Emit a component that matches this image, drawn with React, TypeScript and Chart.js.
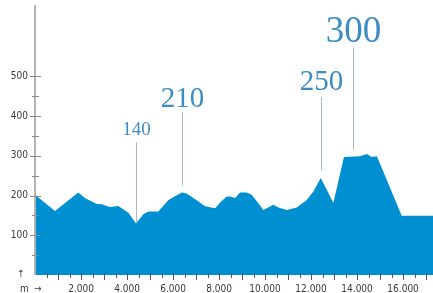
import React, { useEffect, useRef } from 'react';
import { Chart, registerables } from 'chart.js';

Chart.register(...registerables);

// Elevation profile (distance in m, elevation in m)
const distances = [0, 870, 1880, 2170, 2680, 2900, 3260, 3620, 4060, 4390, 4710, 4930, 5360, 5800, 6380, 6590, 7030, 7390, 7830, 8040, 8330, 8480, 8700, 8910, 9200, 9420, 9930, 10360, 10580, 10940, 11380, 11810, 12100, 12420, 12970, 13430, 14130, 14420, 14640, 14860, 15940, 17300];
const elevations = [202, 161, 208, 194, 179, 178, 171, 174, 157, 130, 153, 160, 160, 189, 208, 205, 188, 173, 168, 182, 198, 198, 194, 208, 208, 202, 164, 177, 170, 164, 170, 189, 210, 244, 182, 297, 299, 305, 297, 299, 149, 149];

const yTickLabels = [100, 200, 300, 400, 500];
const yMinorTicks = [50, 150, 250, 350, 450];
const xTickLabels = [2000, 4000, 6000, 8000, 10000, 12000, 14000, 16000];

const peakLabels = ['140', '210', '250', '300'];
const peakDistances = [4390, 6380, 12420, 13840];
const peakElevations = [130, 208, 244, 298];

// styles for the peak annotations
const peakFontSizes = [19, 29, 29, 37];
const peakLineGap = [1, 7, 8, 7];
const peakLineLen = [80, 73, 73, 102];
const peakTextGap = [7, 5, 7, 6];

const fmt = (v: number) => (v >= 1000 ? Math.floor(v / 1000) + '.' + String(v % 1000).padStart(3, '0') : String(v));

export default function App() {
  const ref = useRef<HTMLCanvasElement | null>(null);
  useEffect(() => {
    document.body.style.margin = '0';
    const canvas = ref.current;
    if (!canvas) return;
    const decor = {
      id: 'decor',
      afterDatasetsDraw(chart: any) {
        const ctx = chart.ctx;
        const xs = chart.scales.x;
        const ys = chart.scales.y;
        const area = chart.chartArea;
        const x0 = xs.getPixelForValue(0);
        const y0 = ys.getPixelForValue(0);
        ctx.save();
        // y axis line
        ctx.strokeStyle = '#b4b4b4';
        ctx.lineWidth = 2;
        ctx.beginPath();
        ctx.moveTo(x0, y0);
        ctx.lineTo(x0, area.top);
        ctx.stroke();
        // y ticks
        ctx.strokeStyle = '#8a8a8a';
        ctx.lineWidth = 1;
        yTickLabels.forEach((v) => {
          const y = Math.round(ys.getPixelForValue(v)) + 0.5;
          ctx.beginPath();
          ctx.moveTo(x0 - 5, y);
          ctx.lineTo(x0 + 6, y);
          ctx.stroke();
        });
        yMinorTicks.forEach((v) => {
          const y = Math.round(ys.getPixelForValue(v)) + 0.5;
          ctx.beginPath();
          ctx.moveTo(x0 - 3, y);
          ctx.lineTo(x0 + 4, y);
          ctx.stroke();
        });
        ctx.fillStyle = '#3a3a3a';
        ctx.font = '10px "DejaVu Sans Condensed", "DejaVu Sans", sans-serif';
        ctx.textAlign = 'right';
        ctx.textBaseline = 'middle';
        yTickLabels.forEach((v) => {
          ctx.fillText(fmt(v), x0 - 7, ys.getPixelForValue(v));
        });
        // x axis ticks
        ctx.strokeStyle = '#555';
        for (let d = 500; d <= 17000; d += 500) {
          const x = Math.round(xs.getPixelForValue(d)) + 0.5;
          const len = d % 1000 === 0 ? 5 : 3;
          ctx.beginPath();
          ctx.moveTo(x, y0 - 2);
          ctx.lineTo(x, y0 + len);
          ctx.stroke();
        }
        ctx.textAlign = 'center';
        ctx.textBaseline = 'middle';
        xTickLabels.forEach((v) => {
          ctx.fillText(fmt(v), xs.getPixelForValue(v), y0 + 14);
        });
        // unit markers
        ctx.textAlign = 'left';
        ctx.fillText('m', x0 - 15, y0 + 14);
        ctx.fillText('\u2192', x0 - 1, y0 + 14);
        ctx.textAlign = 'center';
        ctx.fillText('\u2191', x0 - 14, y0 - 1);
        // peak annotations
        peakLabels.forEach((lab, i) => {
          const px = Math.round(xs.getPixelForValue(peakDistances[i])) + 0.5;
          const py = ys.getPixelForValue(peakElevations[i]);
          const lb = py - peakLineGap[i];
          const lt = lb - peakLineLen[i];
          ctx.strokeStyle = '#a3bccd';
          ctx.lineWidth = 1;
          ctx.beginPath();
          ctx.moveTo(px, lb);
          ctx.lineTo(px, lt);
          ctx.stroke();
          ctx.fillStyle = '#3b8dc2';
          ctx.font = `${peakFontSizes[i]}px "Liberation Serif", serif`;
          ctx.textAlign = 'center';
          ctx.textBaseline = 'alphabetic';
          ctx.fillText(lab, px, lt - peakTextGap[i]);
        });
        ctx.restore();
      },
    };
    const chart = new Chart(canvas, {
      type: 'line',
      data: {
        datasets: [
          {
            data: distances.map((d, i) => ({ x: d, y: elevations[i] })),
            fill: 'origin',
            backgroundColor: '#0090d2',
            borderWidth: 0,
            borderColor: '#0090d2',
            pointRadius: 0,
            tension: 0,
          },
        ],
      },
      options: {
        animation: false,
        responsive: false,
        maintainAspectRatio: false,
        layout: { padding: { left: 35, right: 0, top: 5, bottom: 18 } },
        plugins: { legend: { display: false }, tooltip: { enabled: false } },
        scales: {
          x: { type: 'linear', min: 0, max: 17300, display: false },
          y: { min: 0, max: 680, display: false },
        },
      },
      plugins: [decor],
    });
    return () => chart.destroy();
  }, []);
  return (
    <div style={{ width: 433, height: 293 }}>
      <canvas ref={ref} width={433} height={293} />
    </div>
  );
}
